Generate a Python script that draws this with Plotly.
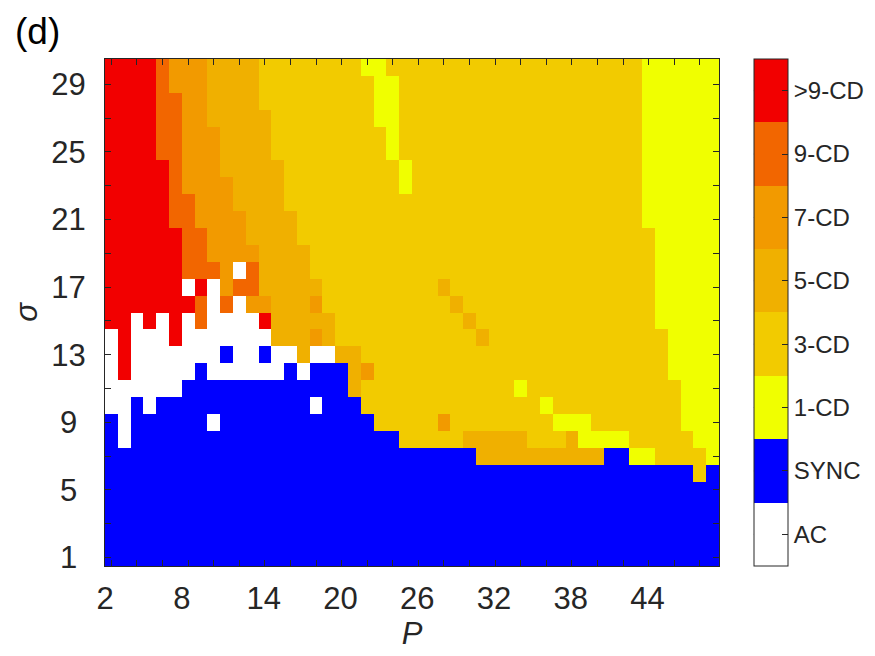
import plotly.graph_objects as go

# ---------------- data ----------------
P_VALUES = list(range(2, 50))          # columns (x)
SIGMA_VALUES = list(range(1, 31))      # rows (y)
CATEGORIES = ["AC", "SYNC", "1-CD", "3-CD", "5-CD", "7-CD", "9-CD", ">9-CD"]
CODES = ["A", "S", "1", "3", "5", "7", "9", "R"]
COLORS = ["#ffffff", "#0000ff", "#f0ff00", "#f2cb00", "#f0b000",
          "#f29a00", "#f26600", "#f20000"]
X_TICK_LABELS = [2, 8, 14, 20, 26, 32, 38, 44]
Y_TICK_LABELS = [1, 5, 9, 13, 17, 21, 25, 29]

# regime map, one string per sigma row, from sigma = 30 (top) down to sigma = 1
ROWS_TOP_TO_BOTTOM = [
    "RRRR 9 777 5555 33333333 11 3333333333 3333333333 111111",            # 30
    "RRRR 9 777 5555 333333333 11 3333333333 333333333 111111",            # 29
    "RRRR 99 77 5555 333333333 11 3333333333 333333333 111111",            # 28
    "RRRR 99 77 55555 33333333 11 3333333333 333333333 111111",            # 27
    "RRRR 99 777 5555 333333333 1 3333333333 333333333 111111",            # 26
    "RRRR 99 777 5555 333333333 1 3333333333 333333333 111111",            # 25
    "RRRRR 9 777 55555 333333333 1 3333333333 33333333 111111",            # 24
    "RRRRR 9 7777 5555 333333333 1 3333333333 33333333 111111",            # 23
    "RRRRR 99 777 5555 3333333333 3333333333 33333333 111111",             # 22
    "RRRRR 99 7777 5555 3333333333 3333333333 3333333 111111",             # 21
    "RRRRRR 99 777 5555 3333333333 3333333333 33333333 11111",             # 20
    "RRRRRR 99 7777 5555 3333333333 3333333333 3333333 11111",             # 19
    "RRRRRR 999 7 A 9 5555 3333333333 3333333333 3333333 11111",           # 18
    "RRRRRR A R A 7 99 55555 333333333 5 3333333333 333333 11111",         # 17
    "RRRRRRR 9 A 9 A 77 555 7 3333333333 5 3333333333 33333 11111",        # 16
    "RR A R A R A 9 AAAA R 55555 3333333333 5 3333333333 3333 11111",      # 15
    "A R AAA R AAAAAAA 555 7 5 3333333333 3 5 3333333333 3333 1111",       # 14
    "A R AAAAAAA S AA S AA 5 AA 55 3333333333 3333333333 3333 1111",       # 13
    "A R AAAAA S AAAAAA S A SSS 5 7 3333333333 3333333333 333 1111",       # 12
    "AAAAAA SSSSSSSSSS SSS 5 3333333333 33 1 3333333333 33 111",           # 11
    "AA S A SSSSSSSSSS SS A SSS 3333333333 3333 1 3333333333 111",         # 10
    "S A SSSSSS A SSSSSSSSSS SS 33333 7 33333333 111 3333333 111",         # 9
    "S A SSSSSSSSSS SSSSSSSSSS S 33333 55555 333 5 1111 33333 11",         # 8
    "SSSSSSSSSS SSSSSSSSSS SSSSSSSSS 5555555555 SS 11 3333 1",             # 7
    "SSSSSSSSSS SSSSSSSSSS SSSSSSSSSS SSSSSSSSSS SSSSSS 3 S",              # 6
    "SSSSSSSSSS SSSSSSSSSS SSSSSSSSSS SSSSSSSSSS SSSSSSSS",                # 5
    "SSSSSSSSSS SSSSSSSSSS SSSSSSSSSS SSSSSSSSSS SSSSSSSS",                # 4
    "SSSSSSSSSS SSSSSSSSSS SSSSSSSSSS SSSSSSSSSS SSSSSSSS",                # 3
    "SSSSSSSSSS SSSSSSSSSS SSSSSSSSSS SSSSSSSSSS SSSSSSSS",                # 2
    "SSSSSSSSSS SSSSSSSSSS SSSSSSSSSS SSSSSSSSSS SSSSSSSS",                # 1
]

# ---------------- build ----------------
rows = [r.replace(" ", "") for r in ROWS_TOP_TO_BOTTOM]
for i, r in enumerate(rows):
    if len(r) != len(P_VALUES):
        raise ValueError(f"row {30 - i} has {len(r)} cells")
z = [[CODES.index(c) for c in r] for r in reversed(rows)]

n = len(CATEGORIES)
colorscale = []
for i, c in enumerate(COLORS):
    colorscale.append([i / n, c])
    colorscale.append([(i + 1) / n, c])

INK = "#262626"
FONT = "Liberation Sans, Arial, Helvetica, sans-serif"

# plot area geometry (px)
W, H = 875, 656
ML, MR, MT, MB = 97, 157, 51, 98
PW = W - ML - MR
PH = H - MT - MB
CB_LEFT = 753.3
CB_THICK = 34

fig = go.Figure()
fig.add_trace(go.Heatmap(
    x=P_VALUES, y=SIGMA_VALUES, z=z,
    zmin=-0.5, zmax=n - 0.5,
    colorscale=colorscale,
    xgap=0, ygap=0,
    colorbar=dict(
        tickvals=list(range(n)), ticktext=CATEGORIES,
        ticks="inside", ticklen=6, tickwidth=1, tickcolor=INK,
        tickfont=dict(family=FONT, size=24, color=INK),
        outlinewidth=1, outlinecolor=INK,
        thickness=CB_THICK, thicknessmode="pixels",
        len=1, lenmode="fraction", y=0.5, yanchor="middle", ypad=0,
        x=(CB_LEFT - ML) / PW, xanchor="left", xpad=0,
    ),
    hovertemplate="P=%{x}<br>σ=%{y}<extra></extra>",
))

# left-side ticks of the colorbar (mirror of the right ones)
for i in range(n):
    fig.add_shape(type="line", xref="paper", yref="paper",
                  x0=(CB_LEFT - ML) / PW, x1=(CB_LEFT + 6 - ML) / PW,
                  y0=(i + 0.5) / n, y1=(i + 0.5) / n,
                  line=dict(color=INK, width=1))

x_tickvals = [p - 0.5 if p < 10 else p - 0.1 for p in X_TICK_LABELS]
y_ticktext = [str(v) + ("\u2008" if v < 10 else "") for v in Y_TICK_LABELS]

fig.update_xaxes(
    range=[P_VALUES[0] - 0.5, P_VALUES[-1] + 0.5],
    showgrid=False, zeroline=False,
    showline=True, linecolor=INK, linewidth=1, mirror="allticks",
    tickmode="array", tickvals=x_tickvals, ticktext=[str(v) for v in X_TICK_LABELS],
    ticks="", ticklabelstandoff=5,
    tickfont=dict(family=FONT, size=31, color=INK),
    minor=dict(ticks="inside", ticklen=6, tickwidth=1, tickcolor=INK,
               tick0=P_VALUES[0], dtick=2, showgrid=False),
    title=dict(text="<i>P</i>", font=dict(family=FONT, size=31, color=INK), standoff=6),
)
fig.update_yaxes(
    range=[SIGMA_VALUES[0] - 0.5, SIGMA_VALUES[-1] + 0.5],
    showgrid=False, zeroline=False,
    showline=True, linecolor=INK, linewidth=1, mirror="allticks",
    tickmode="array", tickvals=Y_TICK_LABELS, ticktext=y_ticktext,
    ticks="inside", ticklen=6, tickwidth=1, tickcolor=INK, ticklabelstandoff=12,
    tickfont=dict(family=FONT, size=31, color=INK),
    minor=dict(ticks="inside", ticklen=6, tickwidth=1, tickcolor=INK,
               tick0=SIGMA_VALUES[0], dtick=2, showgrid=False),
    title=dict(text="<i>σ</i>", font=dict(family=FONT, size=31, color=INK), standoff=4),
)

fig.add_annotation(text="(d)", xref="paper", yref="paper",
                   x=(4 - ML) / PW, y=(H - MB - 1) / PH,
                   xanchor="left", yanchor="top", showarrow=False,
                   font=dict(family=FONT, size=37, color="black"))

fig.update_layout(
    width=W, height=H,
    margin=dict(l=ML, r=MR, t=MT, b=MB, pad=0),
    paper_bgcolor="white", plot_bgcolor="white",
    font=dict(family=FONT, color=INK),
)

fig.write_html("out.html")
